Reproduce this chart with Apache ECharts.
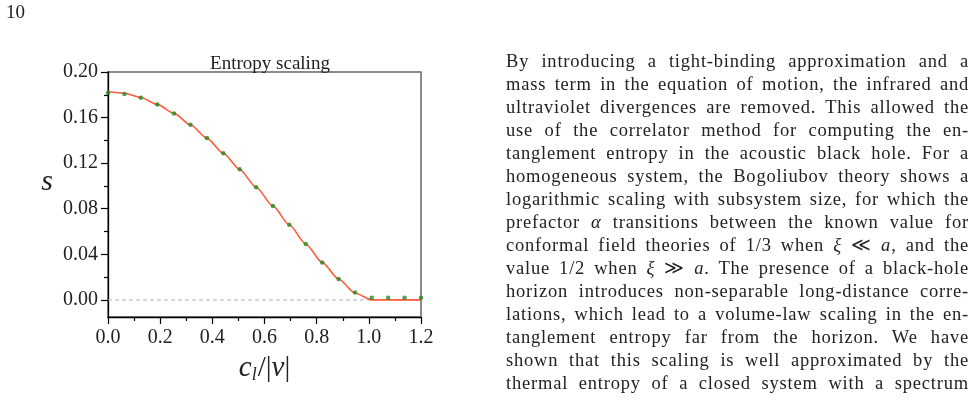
<!DOCTYPE html>
<html>
<head>
<meta charset="utf-8">
<script src="https://cdn.jsdelivr.net/npm/echarts@6/dist/echarts.min.js"></script>
<style>
    html, body {
        margin: 0;
        padding: 0;
        background: #fff;
    }
    .page {
        position: relative;
        width: 976px;
        height: 402px;
        overflow: hidden;
    }
    .page .chart {
        position: absolute;
        left: 0;
        top: 0;
        width: 976px;
        height: 402px;
    }
    .page .para {
        position: absolute;
        left: 506px;
        top: 50px;
        width: 463px;
        font-family: 'Liberation Serif', serif;
        font-size: 18.5px;
        line-height: 23px;
        color: #222;
    }
    .page .para div {
        white-space: nowrap;
        text-align: justify;
        text-align-last: justify;
        letter-spacing: 0.8px;
    }
</style>
</head>
<body>
<div class="page">
    <div class="chart" id="main"></div>
    <div class="para">
        <div>By introducing a tight-binding approximation and a</div>
        <div>mass term in the equation of motion, the infrared and</div>
        <div>ultraviolet divergences are removed. This allowed the</div>
        <div>use of the correlator method for computing the en-</div>
        <div>tanglement entropy in the acoustic black hole. For a</div>
        <div>homogeneous system, the Bogoliubov theory shows a</div>
        <div>logarithmic scaling with subsystem size, for which the</div>
        <div>prefactor <i>α</i> transitions between the known value for</div>
        <div>conformal field theories of 1/3 when <i>ξ</i> ≪ <i>a</i>, and the</div>
        <div>value 1/2 when <i>ξ</i> ≫ <i>a</i>. The presence of a black-hole</div>
        <div>horizon introduces non-separable long-distance corre-</div>
        <div>lations, which lead to a volume-law scaling in the en-</div>
        <div>tanglement entropy far from the horizon. We have</div>
        <div>shown that this scaling is well approximated by the</div>
        <div>thermal entropy of a closed system with a spectrum</div>
    </div>
</div>

<script>
    // numerical points (green dots)
    var dotX = [0, 0.063, 0.126, 0.189, 0.253, 0.316, 0.379, 0.442, 0.505, 0.568,
        0.632, 0.695, 0.758, 0.821, 0.884, 0.947, 1.011, 1.074, 1.137, 1.2];
    var dotS = [0.1819, 0.1808, 0.1773, 0.1714, 0.1636, 0.1536, 0.1420, 0.1286, 0.1146, 0.0988,
        0.0825, 0.0659, 0.0490, 0.0329, 0.0184, 0.0064, 0.0020, 0.0020, 0.0020, 0.0020];

    // analytic curve (red line)
    var lineX = [0, 0.063, 0.126, 0.189, 0.253, 0.316, 0.379, 0.442, 0.505, 0.568,
        0.632, 0.695, 0.758, 0.821, 0.884, 0.947, 1.011, 1.2];
    var lineS = [0.1826, 0.1814, 0.1776, 0.1716, 0.1637, 0.1537, 0.1420, 0.1287, 0.1145, 0.0988,
        0.0825, 0.0659, 0.0490, 0.0329, 0.0184, 0.0060, 0.0, 0.0];

    // dashed reference at s = 0
    var zeroX = [0, 1.2];
    var zeroS = [0, 0];

    var yTicks = [0, 0.04, 0.08, 0.12, 0.16, 0.20];
    var yMinorTicks = [0.02, 0.06, 0.10, 0.14, 0.18];

    var serif = "'Liberation Serif', serif";
    var ink = '#222';

    var chart = echarts.init(document.getElementById('main'));

    function zip(xs, ys) {
        return xs.map(function (x, i) { return [x, ys[i]]; });
    }

    chart.setOption({
        animation: false,
        title: {
            text: 'Entropy scaling',
            left: 265,
            top: 50,
            textAlign: 'center',
            textStyle: {
                fontFamily: serif,
                fontWeight: 'normal',
                fontSize: 19,
                color: ink
            }
        },
        graphic: [{
            type: 'text',
            left: 6,
            top: 4,
            style: {
                text: '10',
                font: '19px ' + serif,
                fill: ink
            }
        }],
        grid: {
            left: 108,
            right: 555,
            top: 72,
            bottom: 85,
            show: true,
            borderColor: '#666',
            borderWidth: 1.5,
            outerBoundsMode: 'none'
        },
        xAxis: {
            type: 'value',
            min: 0,
            max: 1.2,
            interval: 0.2,
            name: '{i|c}{sub|l}{r|/|}{i|v}{r||}',
            nameLocation: 'middle',
            nameGap: 35,
            nameTextStyle: {
                rich: {
                    i: { fontFamily: serif, fontStyle: 'italic', fontSize: 29, color: ink },
                    sub: { fontFamily: serif, fontStyle: 'italic', fontSize: 18, color: ink, verticalAlign: 'bottom', padding: [14, 1, 0, 0] },
                    r: { fontFamily: serif, fontSize: 29, color: ink }
                }
            },
            axisLine: { onZero: false, lineStyle: { color: '#000', width: 1.3 } },
            axisTick: { length: 7, lineStyle: { color: '#000', width: 1.2 } },
            minorTick: { show: true, splitNumber: 2, length: 4, lineStyle: { color: '#000', width: 1.2 } },
            splitLine: { show: false },
            axisLabel: {
                fontFamily: serif,
                fontSize: 20,
                color: ink,
                margin: 11,
                formatter: function (v) { return v.toFixed(1); }
            }
        },
        yAxis: [{
            type: 'value',
            min: -0.015,
            max: 0.2,
            name: 's',
            nameLocation: 'middle',
            nameRotate: 0,
            nameGap: 55,
            nameTextStyle: {
                fontFamily: serif,
                fontStyle: 'italic',
                fontSize: 30,
                color: ink,
                verticalAlign: 'bottom',
                lineHeight: 24
            },
            axisLine: { show: true, onZero: false, lineStyle: { color: '#000', width: 1.3 } },
            axisTick: { show: true, length: 7, customValues: yTicks, lineStyle: { color: '#000', width: 1.2 } },
            splitLine: { show: false },
            axisLabel: {
                fontFamily: serif,
                fontSize: 20,
                color: ink,
                margin: 10,
                customValues: yTicks,
                formatter: function (v) { return v.toFixed(2); }
            }
        }, {
            // minor ticks on the left axis
            type: 'value',
            position: 'left',
            min: -0.015,
            max: 0.2,
            axisLine: { show: false, onZero: false },
            axisTick: { show: true, length: 4, customValues: yMinorTicks, lineStyle: { color: '#000', width: 1.2 } },
            axisLabel: { show: false },
            splitLine: { show: false }
        }],
        series: [{
            type: 'line',
            data: zip(zeroX, zeroS),
            symbol: 'none',
            silent: true,
            lineStyle: { color: '#a8a8a8', type: [4, 3], width: 0.9 },
            z: 1
        }, {
            type: 'line',
            data: zip(lineX, lineS),
            symbol: 'none',
            smooth: 0.25,
            smoothMonotone: 'x',
            lineStyle: { color: '#ff5a3c', width: 1.6 },
            z: 2
        }, {
            type: 'scatter',
            data: zip(dotX, dotS),
            symbolSize: 4.5,
            itemStyle: { color: '#228b22' },
            z: 3
        }]
    });
</script>
</body>
</html>
